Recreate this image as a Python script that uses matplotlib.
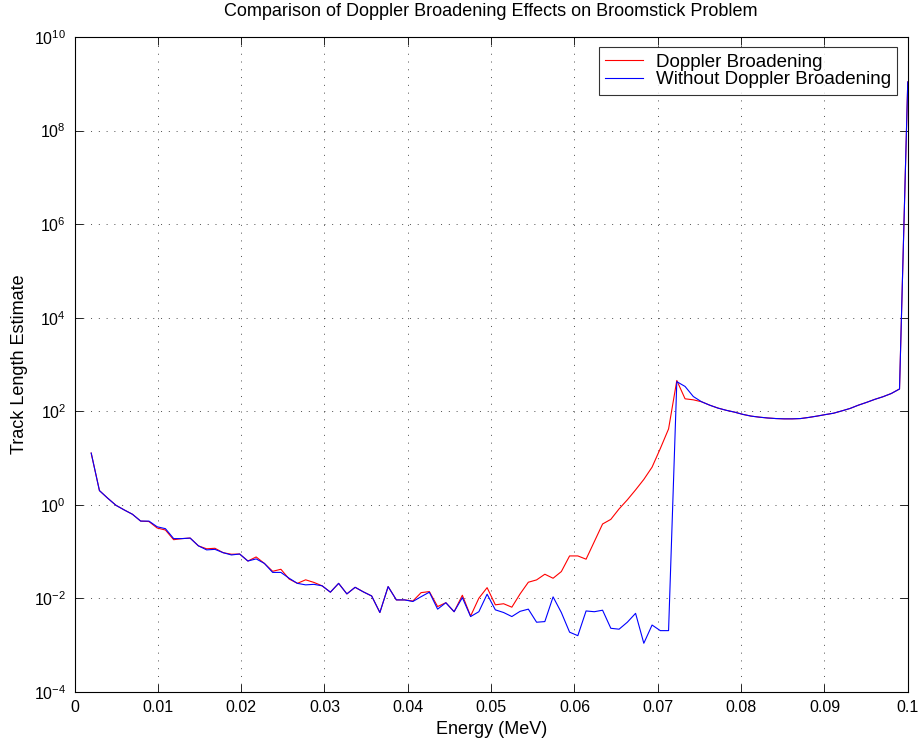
import numpy as np
import matplotlib
matplotlib.use('Agg')
import matplotlib.pyplot as plt

plt.rcParams['font.family'] = ['Liberation Sans', 'DejaVu Sans']
plt.rcParams['mathtext.fontset'] = 'custom'
plt.rcParams['mathtext.rm'] = 'Liberation Sans'
plt.rcParams['mathtext.it'] = 'Liberation Sans'

# energy grid (MeV)
energy = np.linspace(0.002, 0.1, 100)

# track length estimate, with Doppler broadening
doppler = [
    12.8, 2.02, 1.39, 0.98, 0.78, 0.63, 0.45, 0.44, 0.32, 0.29,
    0.18, 0.19, 0.195, 0.133, 0.115, 0.118, 0.095, 0.088, 0.089, 0.063,
    0.077, 0.056, 0.038, 0.042, 0.026, 0.021, 0.025, 0.022, 0.0186, 0.0136,
    0.021, 0.0125, 0.0173, 0.0138, 0.0113, 0.0050, 0.0179, 0.0093, 0.0093, 0.0088,
    0.0133, 0.014, 0.0067, 0.0081, 0.0052, 0.0117, 0.0042, 0.0101, 0.017, 0.0073,
    0.0077, 0.0065, 0.0125, 0.0222, 0.0249, 0.0329, 0.027, 0.0375, 0.081, 0.081,
    0.069, 0.164, 0.39, 0.49, 0.82, 1.28, 2.09, 3.5, 6.4, 16.0,
    42.0, 456.0, 185.0, 176.0, 160.0, 135.0, 117.0, 105.0, 96.0, 86.0,
    79.0, 75.0, 72.0, 70.0, 69.0, 69.0, 70.0, 74.0, 79.0, 85.0,
    91.0, 102.0, 115.0, 135.0, 155.0, 180.0, 205.0, 240.0, 300.0, 1.1e9,
]

# track length estimate, without Doppler broadening
no_doppler = [
    12.8, 2.02, 1.39, 0.98, 0.78, 0.63, 0.45, 0.45, 0.34, 0.31,
    0.19, 0.19, 0.195, 0.133, 0.109, 0.112, 0.095, 0.085, 0.089, 0.063,
    0.070, 0.056, 0.036, 0.036, 0.027, 0.021, 0.0195, 0.020, 0.0186, 0.0136,
    0.021, 0.0125, 0.0173, 0.0138, 0.0113, 0.0050, 0.0179, 0.0093, 0.0093, 0.0086,
    0.0109, 0.0136, 0.0059, 0.0081, 0.0052, 0.0104, 0.0041, 0.0052, 0.0123, 0.0057,
    0.0050, 0.0041, 0.0053, 0.0059, 0.0031, 0.0032, 0.0108, 0.0050, 0.0019, 0.0016,
    0.0054, 0.0052, 0.0056, 0.0023, 0.0022, 0.0031, 0.0048, 0.0011, 0.0027, 0.00205,
    0.00205, 430.0, 340.0, 207.0, 160.0, 135.0, 117.0, 105.0, 96.0, 86.0,
    79.0, 75.0, 72.0, 70.0, 69.0, 69.0, 70.0, 74.0, 79.0, 85.0,
    91.0, 102.0, 115.0, 135.0, 155.0, 180.0, 205.0, 240.0, 300.0, 1.1e9,
]

x_ticks = [0, 0.01, 0.02, 0.03, 0.04, 0.05, 0.06, 0.07, 0.08, 0.09, 0.1]
x_ticklabels = ['0', '0.01', '0.02', '0.03', '0.04', '0.05', '0.06', '0.07', '0.08', '0.09', '0.1']
y_exponents = [-4, -2, 0, 2, 4, 6, 8, 10]

fig = plt.figure(figsize=(9.2, 7.44), dpi=100)
ax = fig.add_axes([0.081, 0.0699, 0.9057, 0.8803])

ax.plot(energy, doppler, color='red', linewidth=0.8, label='Doppler Broadening')
ax.plot(energy, no_doppler, color='blue', linewidth=0.8, label='Without Doppler Broadening')

ax.set_yscale('log')
ax.set_xlim(0, 0.1)
ax.set_ylim(1e-4, 1e10)

ax.set_xticks(x_ticks)
ax.set_xticklabels(x_ticklabels)
ax.set_yticks([10.0 ** e for e in y_exponents])
ax.set_yticklabels(['$10^{%d}$' % e for e in y_exponents])
ax.yaxis.set_minor_locator(matplotlib.ticker.NullLocator())

ax.tick_params(axis='both', which='major', direction='in', length=6, width=0.6,
               top=True, right=True, labelsize=11.5, pad=6)

ax.grid(True, which='major', color='black', linestyle=(0, (1, 7)), linewidth=0.7, alpha=0.7)

for side in ax.spines.values():
    side.set_linewidth(0.8)

ax.set_xlabel('Energy (MeV)', fontsize=13, labelpad=4)
ax.set_ylabel('Track Length Estimate', fontsize=13, labelpad=4)
ax.set_title('Comparison of Doppler Broadening Effects on Broomstick Problem', fontsize=13, pad=15)

leg = ax.legend(loc='upper right', fontsize=13.5, frameon=True, fancybox=False,
                handlelength=2.0, handletextpad=0.7, borderpad=0.35, labelspacing=0.0,
                borderaxespad=0.55)
leg.get_frame().set_edgecolor('black')
leg.get_frame().set_linewidth(0.8)

plt.savefig('out.png', dpi=100)
